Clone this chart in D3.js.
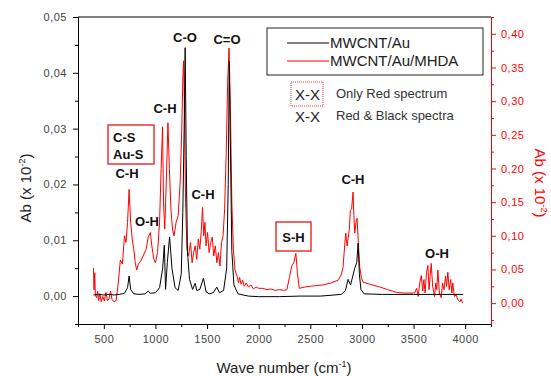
<!DOCTYPE html>
<html>
<head>
<meta charset="utf-8">
<script src="https://cdn.jsdelivr.net/npm/d3@7"></script>
<style>
  body { margin: 0; background: #fff; }
  svg { font-family: "Liberation Sans", Arial, sans-serif; }
</style>
</head>
<body>
<main></main>
<script>
// black spectrum: MWCNT/Au (left axis)
const waveBlack = [400, 450, 500, 550, 600, 650, 700, 730, 745, 760, 790, 850, 900, 930, 950, 1000,
  1040, 1070, 1086, 1098, 1115, 1137, 1160, 1190, 1220, 1250, 1265, 1278, 1288, 1298, 1310, 1330,
  1360, 1385, 1400, 1430, 1465, 1490, 1520, 1560, 1594, 1620, 1660, 1690, 1705, 1715, 1725, 1740,
  1760, 1800, 1900, 2000, 2200, 2400, 2600, 2800, 2840, 2866, 2890, 2930, 2950, 2963, 2975, 2990,
  3020, 3200, 3500, 3700, 3900, 3980];
const absBlack = [0.0002, 0.0003, 0.0002, 0.0003, 0.0002, 0.0003, 0.0005, 0.0015, 0.0036, 0.0012, 0.0004, 0.0003, 0.0004, 0.0009, 0.0005, 0.0006,
  0.0015, 0.0050, 0.0091, 0.0012, 0.0060, 0.0106, 0.0050, 0.0015, 0.0010, 0.0040, 0.0150, 0.0300, 0.0445, 0.0250, 0.0080, 0.0030,
  0.0012, 0.0023, 0.0010, 0.0012, 0.0032, 0.0008, 0.0004, 0.0006, 0.0016, 0.0006, 0.0010, 0.0050, 0.0200, 0.0420, 0.0280, 0.0080,
  0.0020, 0.0004, 0.0000, -0.0001, -0.0001, 0.0000, 0.0000, 0.0003, 0.0010, 0.0030, 0.0020, 0.0050, 0.0060, 0.0095, 0.0040, 0.0012,
  0.0004, 0.0003, 0.0003, 0.0003, 0.0003, 0.0003];

// red spectrum: MWCNT/Au/MHDA (right axis)
const waveRed = [400, 405, 412, 418, 430, 440, 450, 462, 475, 490, 505, 520, 535, 550, 565, 580, 600, 620, 640, 660,
  680, 700, 715, 730, 745, 760, 775, 790, 805, 818, 835, 855, 880, 910, 930, 951, 965, 985, 1000, 1020,
  1040, 1055, 1069, 1078, 1090, 1105, 1121, 1135, 1150, 1165, 1180, 1200, 1220, 1240, 1255, 1265, 1272, 1280, 1292, 1305,
  1320, 1340, 1355, 1370, 1385, 1400, 1415, 1430, 1445, 1456, 1468, 1480, 1490, 1505, 1520, 1535, 1550, 1565, 1580, 1595,
  1610, 1625, 1640, 1655, 1670, 1685, 1700, 1713, 1725, 1740, 1755, 1771, 1790, 1805, 1815, 1830, 1845, 1860, 1880, 1900,
  1925, 1950, 1975, 2000, 2040, 2080, 2120, 2160, 2200, 2240, 2273, 2300, 2320, 2340, 2360, 2375, 2393, 2450, 2500, 2550,
  2624, 2700, 2769, 2800, 2817, 2835, 2843, 2856, 2866, 2878, 2888, 2900, 2914, 2922, 2930, 2942, 2953, 2965, 2979, 2995,
  3011, 3080, 3172, 3250, 3333, 3400, 3462, 3510, 3530, 3545, 3560, 3575, 3588, 3600, 3612, 3625, 3639, 3650, 3660, 3671,
  3685, 3703, 3715, 3725, 3736, 3750, 3768, 3780, 3795, 3810, 3820, 3832, 3845, 3860, 3870, 3880, 3895, 3913, 3930, 3950,
  3960, 3977];
const absRed = [0.052, 0.020, 0.045, 0.012, 0.008, 0.018, 0.004, 0.014, 0.002, 0.010, 0.003, 0.016, 0.004, 0.006, 0.018, 0.005, 0.002, 0.004, 0.030, 0.064,
  0.058, 0.100, 0.090, 0.120, 0.169, 0.120, 0.095, 0.080, 0.060, 0.049, 0.058, 0.062, 0.070, 0.080, 0.098, 0.105, 0.085, 0.065, 0.060, 0.075,
  0.120, 0.200, 0.262, 0.150, 0.110, 0.180, 0.268, 0.200, 0.140, 0.110, 0.100, 0.120, 0.130, 0.180, 0.260, 0.330, 0.360, 0.300, 0.150, 0.080,
  0.070, 0.090, 0.060, 0.075, 0.085, 0.065, 0.095, 0.080, 0.110, 0.142, 0.100, 0.120, 0.085, 0.105, 0.075, 0.090, 0.098, 0.070, 0.085, 0.060,
  0.075, 0.055, 0.090, 0.100, 0.140, 0.220, 0.330, 0.379, 0.300, 0.150, 0.080, 0.049, 0.040, 0.030, 0.038, 0.028, 0.034, 0.025, 0.030, 0.024,
  0.027, 0.021, 0.024, 0.022, 0.022, 0.020, 0.021, 0.019, 0.020, 0.019, 0.020, 0.040, 0.055, 0.060, 0.074, 0.045, 0.022, 0.024, 0.025, 0.026,
  0.027, 0.030, 0.034, 0.042, 0.053, 0.090, 0.104, 0.085, 0.096, 0.110, 0.138, 0.140, 0.165, 0.130, 0.104, 0.120, 0.126, 0.090, 0.053, 0.038,
  0.031, 0.028, 0.024, 0.020, 0.016, 0.015, 0.015, 0.015, 0.022, 0.010, 0.030, 0.041, 0.018, 0.035, 0.015, 0.045, 0.056, 0.020, 0.040, 0.059,
  0.025, 0.010, 0.030, 0.020, 0.049, 0.015, 0.008, 0.030, 0.020, 0.040, 0.025, 0.046, 0.020, 0.035, 0.015, 0.030, 0.010, 0.012, 0.005, 0.002,
  0.006, 0.000];

const xTicks = [500, 1000, 1500, 2000, 2500, 3000, 3500, 4000];
const leftTicks = [0, 0.01, 0.02, 0.03, 0.04, 0.05];
const rightTicks = [0, 0.05, 0.10, 0.15, 0.20, 0.25, 0.30, 0.35, 0.40];

// peak labels: [text, wavenumber (centre), left-axis height of baseline]
const peakLabels = [
  ['C-O', 1286, 0.0455],
  ['C=O', 1693, 0.0452],
  ['C-H', 1093, 0.0328],
  ['C-H', 725, 0.0212],
  ['O-H', 918, 0.0126],
  ['C-H', 1461, 0.0174],
  ['C-H', 2913, 0.0201],
  ['O-H', 3727, 0.0068]
];

const svg = d3.select('main')
  .append('svg')
  .attr('width', 551)
  .attr('height', 376);

const x = d3.scaleLinear().domain([250, 4250]).range([78, 491]);
const yL = d3.scaleLinear().domain([-0.005, 0.05]).range([324, 17]);
const yR = d3.scaleLinear().domain([-0.031, 0.425]).range([324, 17]);

const comma = (f) => (d) => d3.format(f)(d).replace('.', ',');

// frame top line
svg.append('line')
  .attr('x1', 78).attr('x2', 491)
  .attr('y1', 17).attr('y2', 17)
  .attr('stroke', '#000');

// lines
const redLine = d3.line()
  .x((d, i) => x(waveRed[i]))
  .y((d) => yR(d));
const blackLine = d3.line()
  .x((d, i) => x(waveBlack[i]))
  .y((d) => yL(d));

svg.append('path')
  .datum(absRed)
  .attr('d', redLine)
  .attr('fill', 'none')
  .attr('stroke', '#ff0000')
  .attr('stroke-width', 1);

svg.append('path')
  .datum(absBlack)
  .attr('d', blackLine)
  .attr('fill', 'none')
  .attr('stroke', '#000')
  .attr('stroke-width', 1);

// axes
const styleAxis = (g, color) => {
  g.selectAll('path, line').attr('stroke', color);
  g.selectAll('text')
    .attr('fill', color === '#000' ? '#444' : color)
    .style('font-size', '11px')
    .style('letter-spacing', '0.5px');
};

svg.append('g')
  .attr('transform', 'translate(78,0)')
  .call(d3.axisLeft(yL).tickValues(leftTicks).tickFormat(comma('.2f')).tickSize(5).tickSizeOuter(0).tickPadding(6))
  .call((g) => styleAxis(g, '#000'));
svg.append('g')
  .attr('transform', 'translate(78,0)')
  .call(d3.axisLeft(yL).tickValues(leftTicks.map((d) => d - 0.005).concat([0.045])).tickFormat('').tickSize(3).tickSizeOuter(0))
  .call((g) => styleAxis(g, '#000'));

svg.append('g')
  .attr('transform', 'translate(0,324)')
  .call(d3.axisBottom(x).tickValues(xTicks).tickFormat(d3.format('d')).tickSize(5).tickSizeOuter(0).tickPadding(6))
  .call((g) => styleAxis(g, '#000'));
svg.append('g')
  .attr('transform', 'translate(0,324)')
  .call(d3.axisBottom(x).tickValues([250, 750, 1250, 1750, 2250, 2750, 3250, 3750, 4250]).tickFormat('').tickSize(3).tickSizeOuter(0))
  .call((g) => styleAxis(g, '#000'));

svg.append('g')
  .attr('transform', 'translate(491,0)')
  .call(d3.axisRight(yR).tickValues(rightTicks).tickFormat(comma('.2f')).tickSize(5).tickSizeOuter(0).tickPadding(5))
  .call((g) => styleAxis(g, '#ff0000'));
svg.append('g')
  .attr('transform', 'translate(491,0)')
  .call(d3.axisRight(yR).tickValues(rightTicks.map((d) => d - 0.025).concat([0.425])).tickFormat('').tickSize(3).tickSizeOuter(0))
  .call((g) => styleAxis(g, '#ff0000'));

// axis titles
const xTitle = svg.append('text')
  .attr('x', 284).attr('y', 373)
  .attr('text-anchor', 'middle')
  .style('font-size', '15px')
  .attr('fill', '#222');
xTitle.append('tspan').text('Wave number (cm');
xTitle.append('tspan').attr('dy', -6).style('font-size', '9px').text('-1');
xTitle.append('tspan').attr('dy', 6).text(')');

const yTitle = svg.append('text')
  .attr('transform', 'translate(31,188) rotate(-90)')
  .attr('text-anchor', 'middle')
  .style('font-size', '15px')
  .attr('fill', '#222');
yTitle.append('tspan').text('Ab (x 10');
yTitle.append('tspan').attr('dy', -6).style('font-size', '9px').text('-2');
yTitle.append('tspan').attr('dy', 6).text(')');

const y2Title = svg.append('text')
  .attr('transform', 'translate(535,183) rotate(90)')
  .attr('text-anchor', 'middle')
  .style('font-size', '15px')
  .attr('fill', '#ff0000');
y2Title.append('tspan').text('Ab (x 10');
y2Title.append('tspan').attr('dy', -6).style('font-size', '9px').text('-2');
y2Title.append('tspan').attr('dy', 6).text(')');

// legend
svg.append('rect')
  .attr('x', 267).attr('y', 28)
  .attr('width', 216).attr('height', 47)
  .attr('fill', '#fff')
  .attr('stroke', '#222');
[['MWCNT/Au', '#000', 43], ['MWCNT/Au/MHDA', '#ff0000', 61]].forEach(([name, color, yy]) => {
  svg.append('line')
    .attr('x1', 287).attr('x2', 329)
    .attr('y1', yy).attr('y2', yy)
    .attr('stroke', color);
  svg.append('text')
    .attr('x', 330).attr('y', yy + 5)
    .style('font-size', '15px')
    .attr('fill', '#222')
    .text(name);
});

svg.append('rect')
  .attr('x', 291).attr('y', 82)
  .attr('width', 32).attr('height', 24)
  .attr('fill', 'none')
  .attr('stroke', '#e33')
  .attr('stroke-dasharray', '1,1');
[['X-X', 'Only Red spectrum', 100], ['X-X', 'Red & Black spectra', 122]].forEach(([mark, desc, yy]) => {
  svg.append('text')
    .attr('x', 295).attr('y', yy)
    .style('font-size', '15px')
    .attr('fill', '#222')
    .text(mark);
  svg.append('text')
    .attr('x', 336).attr('y', yy - 2)
    .style('font-size', '13px')
    .attr('fill', '#333')
    .text(desc);
});

// peak annotations
svg.selectAll('.peak')
  .data(peakLabels)
  .enter()
  .append('text')
  .attr('class', 'peak')
  .attr('x', (d) => x(d[1]))
  .attr('y', (d) => yL(d[2]))
  .attr('text-anchor', 'middle')
  .style('font-size', '13px')
  .style('font-weight', 'bold')
  .attr('fill', '#111')
  .text((d) => d[0]);

// boxed labels (only red spectrum)
svg.append('rect')
  .attr('x', 108).attr('y', 125)
  .attr('width', 46).attr('height', 39)
  .attr('fill', '#fff')
  .attr('stroke', '#e33')
  .attr('stroke-width', 1.5);
svg.append('text').attr('x', 113).attr('y', 142)
  .style('font-size', '13px').style('font-weight', 'bold').attr('fill', '#111').text('C-S');
svg.append('text').attr('x', 113).attr('y', 159)
  .style('font-size', '13px').style('font-weight', 'bold').attr('fill', '#111').text('Au-S');

svg.append('rect')
  .attr('x', 276).attr('y', 222)
  .attr('width', 35).attr('height', 29)
  .attr('fill', '#fff')
  .attr('stroke', '#e33')
  .attr('stroke-width', 1.5);
svg.append('text').attr('x', 293.5).attr('y', 242)
  .attr('text-anchor', 'middle')
  .style('font-size', '13px').style('font-weight', 'bold').attr('fill', '#111').text('S-H');
</script>
</body>
</html>
